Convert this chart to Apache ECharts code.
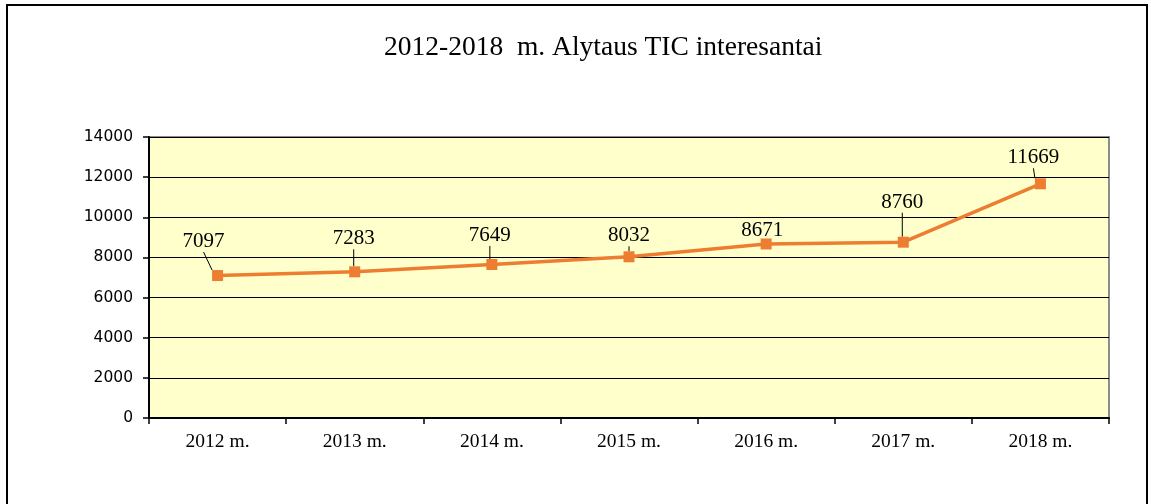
<!DOCTYPE html>
<html>
<head>
<meta charset="utf-8">
<script src="https://cdn.jsdelivr.net/npm/echarts@6/dist/echarts.min.js"></script>
<style>
  html, body { margin: 0; padding: 0; background: #fff; }
  #chart { width: 1151px; height: 504px; }
</style>
</head>
<body>
<div id="chart"></div>
<script>
const years = ['2012 m.', '2013 m.', '2014 m.', '2015 m.', '2016 m.', '2017 m.', '2018 m.'];
const visitors = [7097, 7283, 7649, 8032, 8671, 8760, 11669];
const yTicks = { min: 0, max: 14000, interval: 2000 };

// how far each value label is pushed from its default spot (dx, dy)
const labelNudge = [[-14, -13], [-1, -12], [-2, -8], [0, 0], [-4, 8], [-1, -19], [-7, -5]];

const chart = echarts.init(document.getElementById('chart'));

const option = {
  backgroundColor: '#fff',
  animation: false,
  title: {
    text: '2012-2018  m. Alytaus TIC interesantai',
    left: 379,
    top: 29,
    textStyle: {
      fontFamily: 'Liberation Serif',
      fontSize: 27.5,
      fontWeight: 'normal',
      color: '#000'
    }
  },
  graphic: [{
    type: 'rect',
    shape: { x: 7, y: 5, width: 1140, height: 520 },
    style: { fill: 'none', stroke: '#000', lineWidth: 2 },
    silent: true
  }],
  grid: {
    left: 149,
    right: 42,
    top: 137,
    bottom: 86,
    show: true,
    backgroundColor: '#FFFFCC',
    borderColor: '#8c8c8c',
    borderWidth: 2
  },
  xAxis: {
    type: 'category',
    data: years,
    boundaryGap: true,
    axisLine: { lineStyle: { color: '#000', width: 2 } },
    axisTick: { show: true, length: 6, lineStyle: { color: '#000', width: 1.5 } },
    axisLabel: {
      margin: 14,
      fontFamily: 'Liberation Serif',
      fontSize: 19.5,
      color: '#000'
    },
    splitLine: { show: false }
  },
  yAxis: {
    type: 'value',
    min: yTicks.min,
    max: yTicks.max,
    interval: yTicks.interval,
    axisLine: { show: true, lineStyle: { color: '#000', width: 2 } },
    axisTick: { show: true, length: 6, lineStyle: { color: '#000', width: 1.5 } },
    axisLabel: {
      margin: 16,
      fontFamily: 'DejaVu Sans',
      fontSize: 15.5,
      color: '#000',
      formatter: function (v) { return String(v); }
    },
    splitLine: { lineStyle: { color: '#000', width: 1 } }
  },
  series: [{
    name: 'Interesantai',
    type: 'line',
    data: visitors,
    symbol: 'rect',
    symbolSize: 11,
    lineStyle: { color: '#ED7D31', width: 3.5 },
    itemStyle: { color: '#ED7D31' },
    label: {
      show: true,
      position: 'top',
      fontFamily: 'Liberation Serif',
      fontSize: 21,
      color: '#000'
    },
    labelLine: {
      show: true,
      lineStyle: { color: '#000', width: 1 }
    },
    labelLayout: function (params) {
      const n = labelNudge[params.dataIndex] || [0, 0];
      return { dx: n[0], dy: n[1] };
    },
    z: 3
  }]
};

chart.setOption(option);
</script>
</body>
</html>
